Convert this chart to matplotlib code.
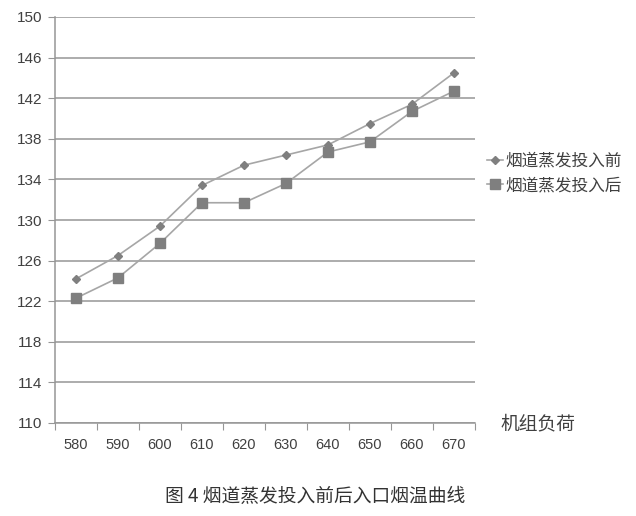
import numpy as np
import matplotlib.pyplot as plt

plt.rcParams['font.family'] = ['Liberation Sans', 'Noto Sans CJK SC', 'DejaVu Sans']

# data
loads = [580, 590, 600, 610, 620, 630, 640, 650, 660, 670]
before = [124.2, 126.5, 129.4, 133.4, 135.4, 136.4, 137.4, 139.5, 141.4, 144.5]
after = [122.3, 124.3, 127.7, 131.7, 131.7, 133.6, 136.7, 137.7, 140.7, 142.7]
yticks = np.arange(110, 151, 4)

fig = plt.figure(figsize=(6.36, 5.16), dpi=100)
ax = fig.add_axes([55/636, (516-423)/516, 420/636, 406/516])

x = np.arange(len(loads))
line_c = '#a6a6a6'
mark_c = '#7f7f7f'
ax.plot(x, before, color=line_c, lw=1.2, marker='D', ms=4.5,
        mfc=mark_c, mec=mark_c, label='烟道蒸发投入前')
ax.plot(x, after, color=line_c, lw=1.2, marker='s', ms=6.5,
        mfc=mark_c, mec=mark_c, label='烟道蒸发投入后')

ax.set_xlim(-0.5, len(loads) - 0.5)
ax.set_ylim(110, 150)
ax.set_yticks(yticks)
ax.yaxis.grid(True, color='#969696', lw=1.1)
ax.set_axisbelow(True)

# category axis: tick marks at boundaries, labels at centres
ax.set_xticks(np.arange(-0.5, len(loads), 1))
ax.set_xticklabels([])
ax.set_xticks(x, minor=True)
ax.set_xticklabels([str(v) for v in loads], minor=True)
ax.tick_params(axis='x', which='major', length=5, color='#969696', direction='out')
ax.tick_params(axis='x', which='minor', length=0, pad=11, labelsize=10.5, labelcolor='#404040')
ax.tick_params(axis='y', length=5, color='#969696', pad=4, labelsize=11, labelcolor='#404040')

for s in ['top', 'right']:
    ax.spines[s].set_visible(False)
for s in ['left', 'bottom']:
    ax.spines[s].set_color('#969696')
    ax.spines[s].set_linewidth(1.1)

ax.legend(loc='center left', bbox_to_anchor=(1.0, 0.615), frameon=False,
          prop={'family': 'Noto Sans CJK SC', 'size': 12}, handlelength=1.0,
          handletextpad=0.1, labelspacing=0.45, borderpad=0.2,
          labelcolor='#404040')

fig.text(500/636, 1 - 424/516, '机组负荷', family='Noto Sans CJK SC',
         fontsize=13.5, color='#404040', va='center', ha='left')
fig.text(315/636, 1 - 496/516, '图 4 烟道蒸发投入前后入口烟温曲线',
         family='Noto Sans CJK SC', fontsize=13.5, color='#333333',
         va='center', ha='center')

fig.savefig('out.png', dpi=100)
